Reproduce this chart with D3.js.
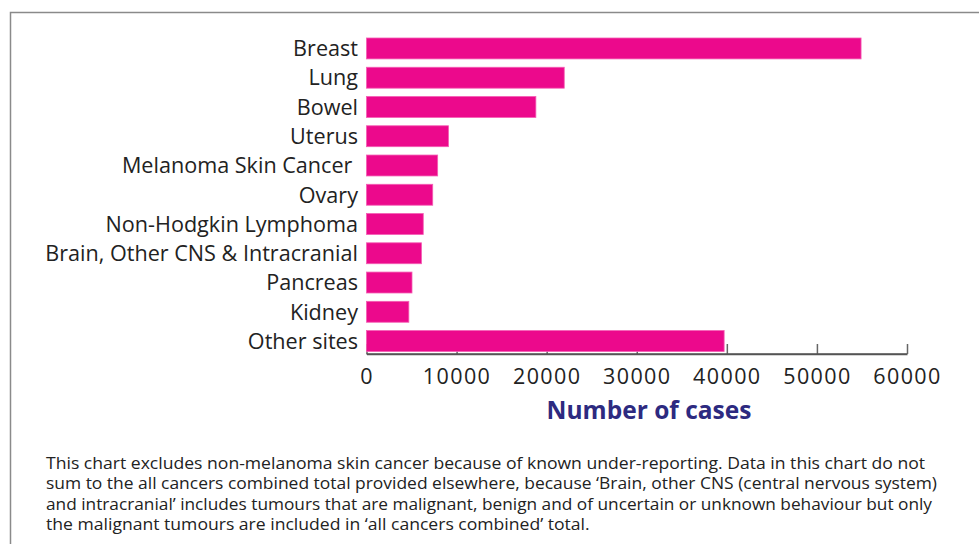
<!DOCTYPE html>
<html>
<head>
<meta charset="utf-8">
<script src="https://cdn.jsdelivr.net/npm/d3@7"></script>
<style>
  html, body { margin: 0; padding: 0; background: #fff; }
  svg { display: block; }
</style>
</head>
<body>
<svg id="chart" width="979" height="544"></svg>
<script>
const categories = ["Breast", "Lung", "Bowel", "Uterus", "Melanoma Skin Cancer ", "Ovary",
  "Non-Hodgkin Lymphoma", "Brain, Other CNS & Intracranial", "Pancreas", "Kidney", "Other sites"];
const cases = [54900, 21950, 18800, 9100, 7900, 7350, 6300, 6100, 5050, 4700, 39700];
const tickValues = [0, 10000, 20000, 30000, 40000, 50000, 60000];
const axisTitle = "Number of cases";
const footnoteLines = [
  "This chart excludes non-melanoma skin cancer because of known under-reporting. Data in this chart do not",
  "sum to the all cancers combined total provided elsewhere, because \u2018Brain, other CNS (central nervous system)",
  "and intracranial\u2019 includes tumours that are malignant, benign and of uncertain or unknown behaviour but only",
  "the malignant tumours are included in \u2018all cancers combined\u2019 total."
];
const footnoteWidths = [879, 891, 886, null];

const FONT = "'Open Sans', Lato, sans-serif";
const svg = d3.select("#chart");

// frame
svg.append("path")
  .attr("d", "M10.5,544 L10.5,12.5 L979,12.5")
  .attr("fill", "none").attr("stroke", "#8a8a8a").attr("stroke-width", 1.5);

const x = d3.scaleLinear().domain([0, 60000]).range([366.5, 907]);
const y = d3.scaleBand().domain(categories).range([38, 351.5]).paddingInner(0.285).paddingOuter(0);

const axisY = 354;

// axis (ticks drawn before bars so the bars cover them)
const axis = d3.axisBottom(x).tickValues(tickValues).tickSizeInner(-10).tickSizeOuter(0).tickFormat(d3.format("d"));
const gAxis = svg.append("g").attr("transform", `translate(0,${axisY})`).call(axis);
gAxis.select(".domain").attr("stroke", "#555").attr("stroke-width", 1.6);
gAxis.selectAll(".tick line").attr("stroke", "#666").attr("stroke-width", 1.5);
gAxis.selectAll(".tick text")
  .attr("font-family", FONT).attr("font-size", 21.5).attr("fill", "#222")
  .attr("letter-spacing", 1.4)
  .attr("dy", "0.71em").attr("y", 15);

// bars
svg.append("g").selectAll("rect").data(categories).join("rect")
  .attr("x", x(0))
  .attr("y", d => y(d))
  .attr("width", (d, i) => x(cases[i]) - x(0))
  .attr("height", y.bandwidth())
  .attr("fill", "#ec098c")
  .attr("stroke", "#f45db3").attr("stroke-width", 0.8);

// redraw axis domain on top
svg.append("line").attr("x1", x(0)).attr("x2", x(60000)).attr("y1", axisY).attr("y2", axisY)
  .attr("stroke", "#555").attr("stroke-width", 1.6);

// category labels
svg.append("g").selectAll("text").data(categories).join("text")
  .attr("x", 358)
  .attr("y", d => y(d) + y.bandwidth() / 2)
  .attr("dy", "0.36em")
  .attr("text-anchor", "end")
  .attr("font-family", FONT)
  .attr("font-size", 21.6)
  .attr("fill", "#222")
  .style("white-space", "pre")
  .text(d => d);

// axis title
svg.append("text")
  .attr("x", 649).attr("y", 419)
  .attr("text-anchor", "middle")
  .attr("font-family", FONT).attr("font-weight", 700).attr("font-size", 24.5)
  .attr("fill", "#2d2a80")
  .text(axisTitle);

// footnote: compressed horizontally like the condensed original
const fnText = svg.append("g").selectAll("text").data(footnoteLines).join("text")
  .attr("x", 46)
  .attr("y", (d, i) => 469 + i * 20.4)
  .attr("font-family", FONT)
  .attr("font-size", 16)
  .attr("fill", "#222")
  .text(d => d);
const sx = footnoteWidths[0] / fnText.nodes()[0].getComputedTextLength();
fnText.each(function (d, i) {
  const w = footnoteWidths[i] || this.getComputedTextLength() * sx;
  d3.select(this).attr("textLength", w).attr("lengthAdjust", "spacingAndGlyphs");
});
</script>
</body>
</html>
